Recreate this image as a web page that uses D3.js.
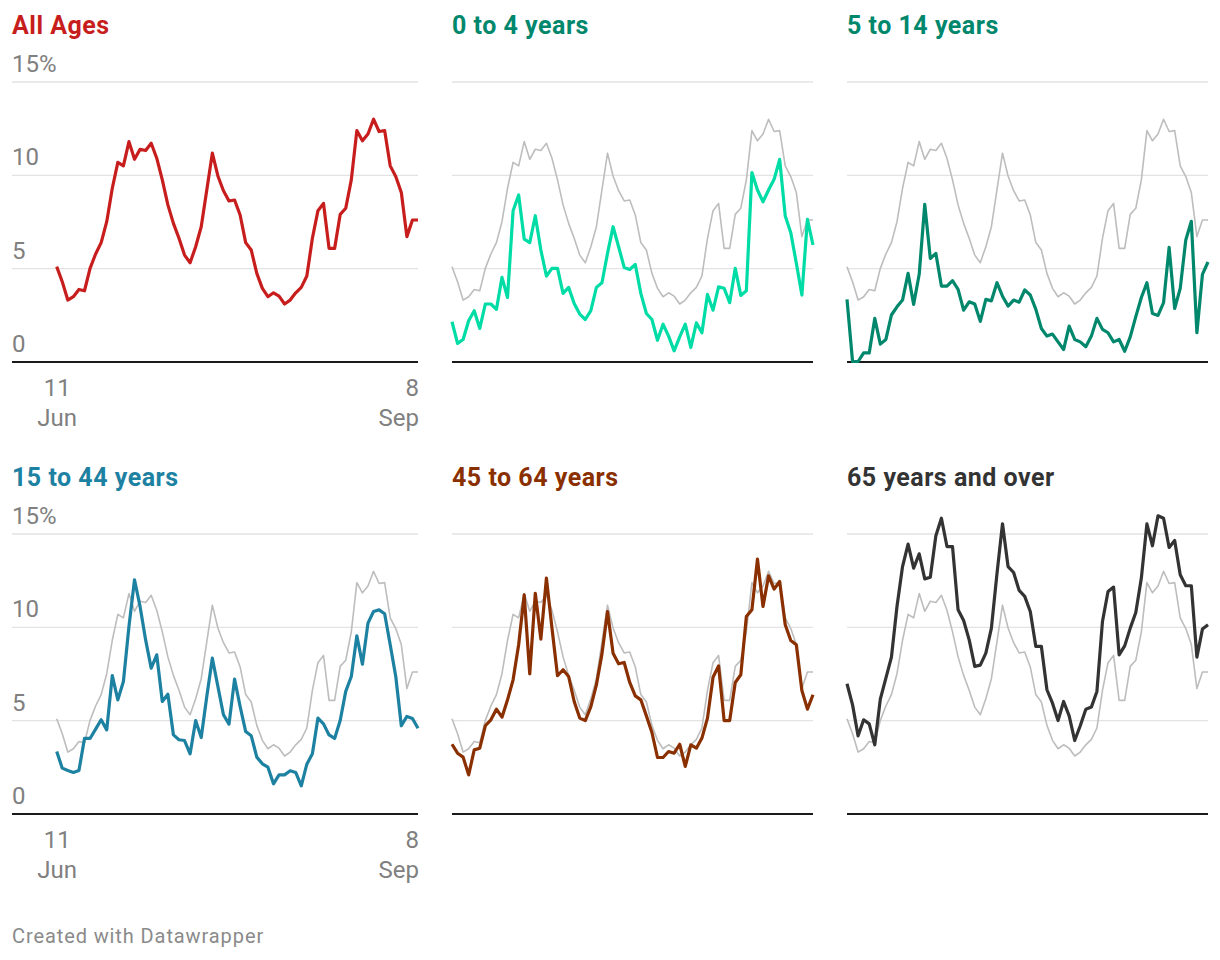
<!DOCTYPE html>
<html>
<head>
<meta charset="utf-8">
<script src="https://cdn.jsdelivr.net/npm/d3@7"></script>
<style>
  body { margin: 0; background: #fff; }
  svg { display: block; font-family: Roboto, "Noto Sans", sans-serif; }
</style>
</head>
<body>
<div id="chart"></div>
<script>
// share of tests positive, %, one value per point from 11 Jun to 8 Sep
const allAges = [5.08, 4.27, 3.29, 3.47, 3.86, 3.79, 4.99, 5.76, 6.37, 7.49, 9.28, 10.67, 10.48, 11.78, 10.83, 11.37, 11.30, 11.69, 10.89, 9.73,
  8.39, 7.40, 6.60, 5.70, 5.29, 6.15, 7.22, 9.19, 11.16, 9.94, 9.15, 8.60, 8.65, 7.85, 6.37, 5.97, 4.72, 3.92, 3.47, 3.68,
  3.50, 3.08, 3.29, 3.68, 3.97, 4.58, 6.60, 8.08, 8.47, 6.06, 6.06, 7.88, 8.21, 9.73, 12.37, 11.82, 12.19, 12.98, 12.32, 12.37,
  10.48, 9.91, 9.05, 6.69, 7.58, 7.58];
const age0to4 = [2.13, 0.97, 1.18, 2.18, 2.72, 1.77, 3.08, 3.08, 2.79, 4.51, 3.43, 8.08, 8.92, 6.56, 6.37, 7.81, 5.97, 4.58, 4.99, 4.99,
  3.65, 3.97, 3.11, 2.54, 2.25, 2.72, 3.97, 4.22, 5.79, 7.22, 6.15, 5.04, 4.93, 5.20, 3.65, 2.57, 2.25, 1.14, 2.00, 1.36,
  0.57, 1.32, 2.00, 0.75, 2.07, 1.54, 3.59, 2.75, 4.00, 3.92, 3.15, 4.99, 3.54, 3.79, 10.12, 9.19, 8.56, 9.19, 9.76, 10.83,
  7.80, 6.90, 5.26, 3.56, 7.62, 6.24];
const age5to14 = [3.33, 0, 0, 0.46, 0.46, 2.31, 0.93, 1.18, 2.49, 2.93, 3.29, 4.72, 3.06, 4.67, 8.42, 5.52, 5.79, 4.04, 4.04, 4.33,
  3.86, 2.75, 3.20, 3.08, 2.15, 3.33, 3.25, 4.22, 3.50, 2.97, 3.29, 3.18, 3.83, 3.56, 2.79, 1.77, 1.36, 1.47, 1.05, 0.64,
  1.90, 1.18, 1.05, 0.79, 1.36, 2.31, 1.72, 1.54, 1.05, 1.18, 0.55, 1.32, 2.40, 3.43, 4.22, 2.57, 2.47, 3.15, 6.11, 2.84,
  3.92, 6.51, 7.51, 1.54, 4.67, 5.33];
const age15to44 = [3.32, 2.43, 2.30, 2.20, 2.30, 4.02, 4.02, 4.52, 5.02, 4.48, 7.39, 6.09, 7.07, 10.02, 12.52, 11.09, 9.30, 7.79, 8.50, 6.00,
  6.39, 4.21, 3.95, 3.91, 3.20, 4.98, 4.07, 6.27, 8.32, 6.80, 5.29, 4.79, 7.20, 5.73, 4.39, 4.16, 3.02, 2.66, 2.48, 1.59,
  2.07, 2.07, 2.29, 2.20, 1.48, 2.64, 3.20, 5.11, 4.80, 4.21, 4.02, 4.98, 6.54, 7.34, 9.52, 8.00, 10.20, 10.82, 10.91, 10.70,
  9.04, 7.34, 4.70, 5.20, 5.09, 4.57];
const age45to64 = [3.71, 3.23, 3.02, 2.07, 3.41, 3.50, 4.70, 5.02, 5.59, 5.16, 6.09, 7.16, 9.04, 11.71, 7.48, 11.80, 9.34, 12.61, 9.93, 7.38,
  7.70, 7.34, 6.00, 5.11, 4.98, 5.73, 6.89, 8.55, 10.82, 8.59, 8.02, 8.09, 7.02, 6.30, 6.09, 5.23, 4.34, 3.00, 3.00, 3.32,
  3.23, 3.71, 2.52, 3.68, 3.50, 4.04, 5.11, 7.30, 7.91, 4.98, 4.98, 7.02, 7.43, 10.55, 10.91, 13.63, 11.09, 12.73, 12.02, 12.43,
  10.11, 9.27, 9.04, 6.59, 5.59, 6.36];
const age65plus = [6.95, 5.82, 4.16, 5.02, 4.80, 3.68, 6.13, 7.25, 8.38, 11.09, 13.23, 14.43, 13.14, 13.91, 12.57, 12.66, 14.88, 15.82, 14.30, 14.30,
  10.91, 10.34, 9.30, 7.88, 7.95, 8.59, 9.93, 12.84, 15.52, 13.23, 12.91, 11.95, 11.63, 10.82, 8.95, 8.95, 6.63, 5.91, 4.98, 6.00,
  5.23, 3.91, 4.70, 5.59, 5.70, 6.54, 10.29, 11.89, 12.13, 8.50, 8.98, 9.93, 10.77, 12.61, 15.52, 14.34, 15.95, 15.82, 14.25, 14.63,
  12.79, 12.20, 12.20, 8.38, 9.88, 10.11];

const panelTitles = ["All Ages", "0 to 4 years", "5 to 14 years", "15 to 44 years", "45 to 64 years", "65 years and over"];
const panelSeries = [allAges, age0to4, age5to14, age15to44, age45to64, age65plus];
const lineColors = ["#c71e1d", "#00dca6", "#00876c", "#1d81a2", "#8a2f00", "#333333"];
const titleColors = ["#c71e1d", "#00876c", "#00876c", "#1d81a2", "#8a2f00", "#333333"];
const yTicks = [0, 5, 10, 15];
const xTickLabels = [["11", "Jun"], ["8", "Sep"]];

const width = 1220, height = 960;
const cols = [
    { grid: 12, plot: 56.7, right: 418 },
    { grid: 452, plot: 452, right: 813 },
    { grid: 847, plot: 847, right: 1208 }
];
const rowTop = [0, 452];

const svg = d3.select("#chart")
    .append("svg")
    .attr("width", width)
    .attr("height", height);

panelSeries.forEach((series, p) => {
    const col = cols[p % 3];
    const row = Math.floor(p / 3);
    const showLabels = p % 3 === 0;

    const g = svg.append("g")
        .attr("transform", `translate(0,${rowTop[row]})`);

    const x = d3.scaleLinear()
        .domain([0, series.length - 1])
        .range([col.plot, col.right]);

    const y = d3.scaleLinear()
        .domain([0, 15])
        .range([361.5, 81.5]);

    g.append("text")
        .attr("x", col.grid)
        .attr("y", 34)
        .attr("fill", titleColors[p])
        .style("font-size", "25px")
        .style("font-weight", 700)
        .style("letter-spacing", "0.5px")
        .text(panelTitles[p]);

    // gridlines + y labels
    const yAxis = g.append("g")
        .attr("transform", `translate(${col.grid},0)`)
        .call(d3.axisRight(y)
            .tickValues(yTicks)
            .tickSize(col.right - col.grid)
            .tickFormat(d => d === 15 ? "15%" : d));

    yAxis.select(".domain").remove();
    yAxis.selectAll(".tick line")
        .attr("stroke", d => d === 0 ? "#1a1a1a" : "#e3e3e3")
        .attr("stroke-width", d => d === 0 ? 2 : 1.3);
    yAxis.selectAll(".tick text")
        .attr("x", 0)
        .attr("dy", -10)
        .attr("text-anchor", "start")
        .attr("fill", "#808080")
        .style("font-family", "Roboto, sans-serif")
        .style("font-size", "24px")
        .style("display", showLabels ? null : "none");

    if (showLabels) {
        const xAxis = g.append("g")
            .attr("transform", `translate(0,${y(0)})`)
            .call(d3.axisBottom(x)
                .tickValues([0, series.length - 1])
                .tickSize(0)
                .tickFormat(""));
        xAxis.select(".domain").remove();
        xAxis.selectAll(".tick").each(function (d, i) {
            const t = d3.select(this).append("text")
                .attr("fill", "#808080")
                .attr("text-anchor", i === 0 ? "middle" : "end")
                .style("font-family", "Roboto, sans-serif")
                .style("font-size", "24px");
            t.append("tspan").attr("x", i === 0 ? 0 : 0.5).attr("y", 34).text(xTickLabels[i][0]);
            t.append("tspan").attr("x", i === 0 ? 0 : 0.5).attr("y", 64).text(xTickLabels[i][1]);
        });
    }

    const line = d3.line()
        .x((d, i) => x(i))
        .y(d => y(d));

    if (p > 0) {
        g.append("path")
            .datum(allAges)
            .attr("fill", "none")
            .attr("stroke", "#bdbdbd")
            .attr("stroke-width", 1.6)
            .attr("stroke-linejoin", "round")
            .attr("d", line);
    }

    g.append("path")
        .datum(series)
        .attr("fill", "none")
        .attr("stroke", lineColors[p])
        .attr("stroke-width", 3.2)
        .attr("stroke-linejoin", "round")
        .attr("d", line);
});

svg.append("text")
    .attr("x", 12)
    .attr("y", 943)
    .attr("fill", "#8a8a8a")
    .style("font-size", "20px")
    .style("letter-spacing", "0.9px")
    .text("Created with Datawrapper");
</script>
</body>
</html>
